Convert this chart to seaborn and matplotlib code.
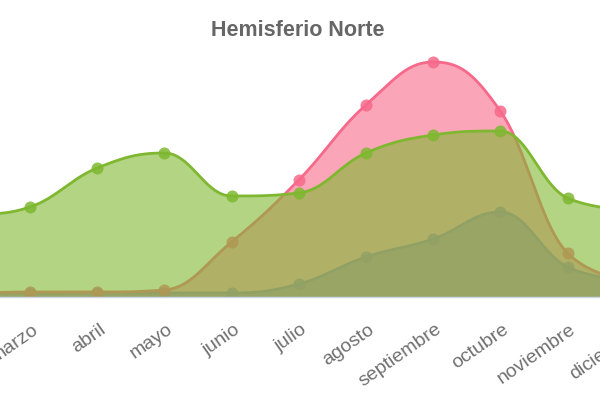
import numpy as np
import pandas as pd
import matplotlib
matplotlib.use("Agg")
import matplotlib.pyplot as plt
import matplotlib.transforms as mtransforms
import seaborn as sns

# ---------------- data ----------------
months = ["enero", "febrero", "marzo", "abril", "mayo", "junio", "julio",
          "agosto", "septiembre", "octubre", "noviembre", "diciembre"]
serie_verde = [7.0, 7.7, 8.6, 12.5, 14.0, 9.7, 10.0, 14.0, 15.8, 16.2, 9.5, 8.3]
serie_rosa = [0.0, 0.0, 0.1, 0.1, 0.3, 5.1, 11.3, 18.8, 23.1, 18.2, 4.0, 1.3]
serie_azul = [0.0, 0.0, 0.0, 0.0, 0.0, 0.0, 0.9, 3.6, 5.4, 8.1, 2.6, 1.3]
title = "Hemisferio Norte"

# ---------------- style ----------------
sns.set_theme(style="white")
plt.rcParams["font.family"] = ["Liberation Sans", "DejaVu Sans"]

W, H = 600, 400
fig = plt.figure(figsize=(W / 100, H / 100), dpi=100)
px_per_unit = 10.0
base_px, top_px = 293, 45
below = 0.4  # units shown below the zero line
bottom_px = base_px + below * px_per_unit
ax = fig.add_axes([0, (H - bottom_px) / H, 1, (bottom_px - top_px) / H])


def hc_spline(xs, ys, smoothing=1.5, n=40):
    xs = np.asarray(xs, float)
    ys = np.asarray(ys, float)
    m = len(xs)
    denom = smoothing + 1
    lcx, lcy = xs.copy(), ys.copy()
    rcx, rcy = xs.copy(), ys.copy()
    for i in range(1, m - 1):
        px, py = xs[i], ys[i]
        lx, ly = xs[i - 1], ys[i - 1]
        nx, ny = xs[i + 1], ys[i + 1]
        leftX = (smoothing * px + lx) / denom
        leftY = (smoothing * py + ly) / denom
        rightX = (smoothing * px + nx) / denom
        rightY = (smoothing * py + ny) / denom
        if rightX != leftX:
            corr = ((rightY - leftY) * (rightX - px)) / (rightX - leftX) + py - rightY
            leftY += corr
            rightY += corr
        if leftY > ly and leftY > py:
            leftY = max(ly, py)
            rightY = 2 * py - leftY
        elif leftY < ly and leftY < py:
            leftY = min(ly, py)
            rightY = 2 * py - leftY
        if rightY > ny and rightY > py:
            rightY = max(ny, py)
            leftY = 2 * py - rightY
        elif rightY < ny and rightY < py:
            rightY = min(ny, py)
            leftY = 2 * py - rightY
        lcx[i], lcy[i], rcx[i], rcy[i] = leftX, leftY, rightX, rightY
    t = np.linspace(0, 1, n)[:, None]
    out = []
    for i in range(m - 1):
        P0 = np.array([xs[i], ys[i]])
        P1 = np.array([rcx[i], rcy[i]])
        P2 = np.array([lcx[i + 1], lcy[i + 1]])
        P3 = np.array([xs[i + 1], ys[i + 1]])
        seg = ((1 - t) ** 3) * P0 + 3 * ((1 - t) ** 2) * t * P1 + 3 * (1 - t) * t ** 2 * P2 + t ** 3 * P3
        out.append(seg if i == 0 else seg[1:])
    pts = np.vstack(out)
    return pts[:, 0], pts[:, 1]


idx = np.arange(len(months))
series = [
    (serie_azul, "#42a5f5", 0.75),
    (serie_rosa, "#f7698a", 0.6),
    (serie_verde, "#7fb830", 0.6),
]
for k, (vals, col, a) in enumerate(series):
    z = 1 + k
    xd, yd = hc_spline(idx, vals)
    ax.fill_between(xd, -below, yd, color=col, alpha=a, lw=0, zorder=z)
    df = pd.DataFrame({"x": xd, "y": yd})
    sns.lineplot(data=df, x="x", y="y", sort=False, estimator=None, color=col,
                 lw=2, ax=ax, zorder=z + 0.1)
    dm = pd.DataFrame({"x": idx, "y": vals})
    sns.scatterplot(data=dm, x="x", y="y", color=col, s=75, alpha=0.85,
                    linewidth=0, ax=ax, zorder=z + 0.2)

ax.set_xlabel("")
ax.set_ylabel("")
ax.set_yticks([])
ax.set_xticks([])

ax.set_ylim(-below, (base_px - top_px) / px_per_unit)
step = (567.5 - 30) / 8
x0 = 2 - 30 / step
ax.set_xlim(x0, x0 + W / step)

# category labels (rotated, anchored at their upper-right end below each month)
lab_off = mtransforms.ScaledTranslation(2 / 100, -28 / 100, fig.dpi_scale_trans)
for i, m in enumerate(months):
    if i < x0:
        continue  # label lies entirely outside the visible window
    ax.text(i, 0, m, transform=ax.transData + lab_off, rotation=35,
            ha="right", va="top", rotation_mode="anchor", color="#707070",
            fontsize=14, clip_on=False)

for s in ["top", "left", "right"]:
    ax.spines[s].set_visible(False)
ax.spines["bottom"].set_color("#ccd6eb")
ax.spines["bottom"].set_linewidth(1)
ax.spines["bottom"].set_zorder(5)

fig.text(0.497, 1 - 30 / H, title, ha="center", va="center", fontsize=15.5,
         fontweight="bold", color="#666666",
         family=["Liberation Sans", "DejaVu Sans"])

fig.savefig("out.png", dpi=100)
